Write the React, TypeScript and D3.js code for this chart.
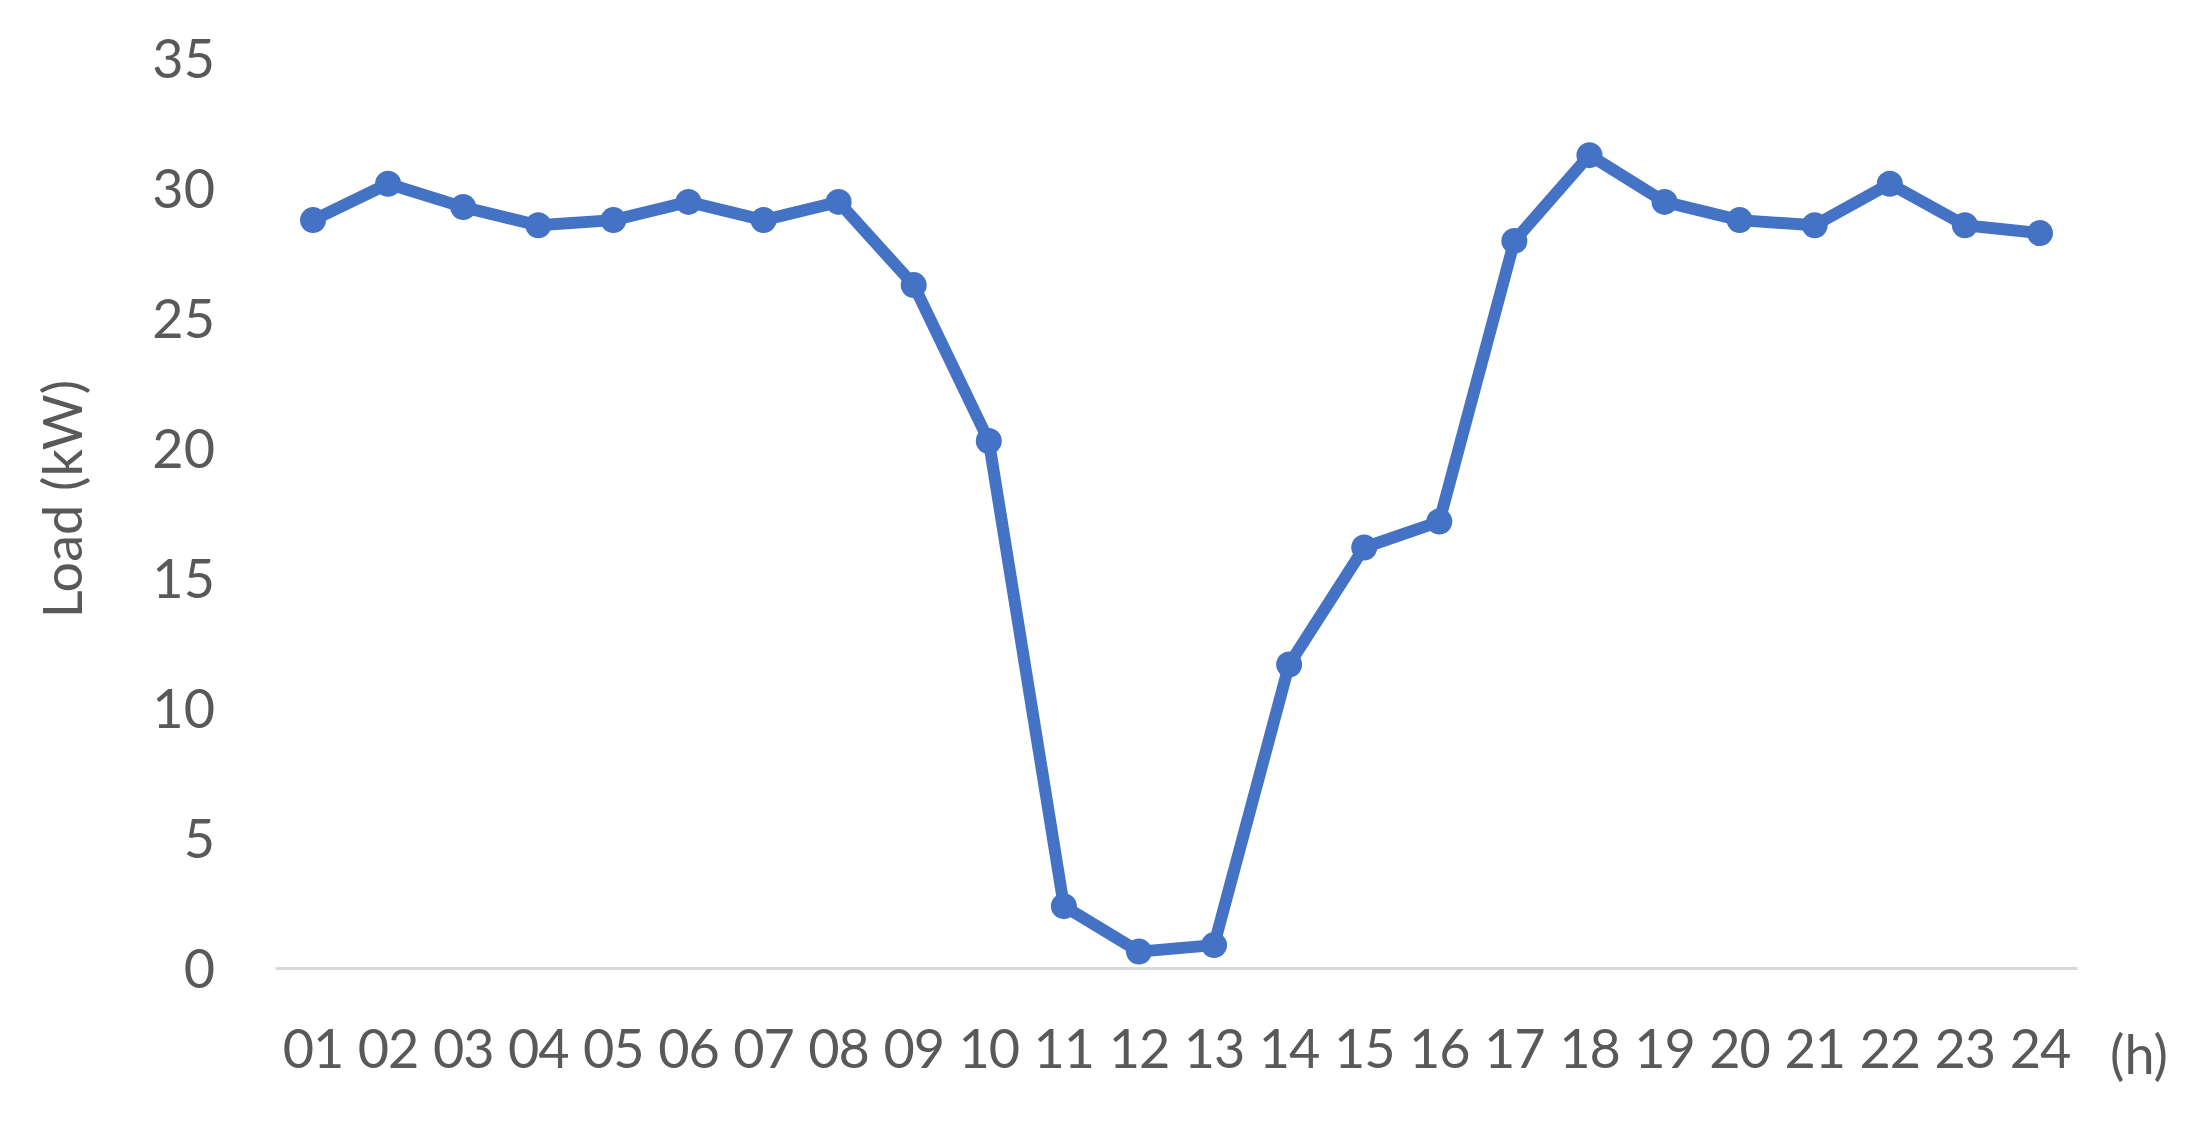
import React from "react";
import * as d3 from "d3";

const hours = ["01","02","03","04","05","06","07","08","09","10","11","12","13","14","15","16","17","18","19","20","21","22","23","24"];
const load = [28.8,30.2,29.3,28.6,28.8,29.5,28.8,29.5,26.3,20.3,2.4,0.65,0.9,11.7,16.2,17.2,28.0,31.3,29.5,28.8,28.6,30.2,28.6,28.3];
const yTicks = [0,5,10,15,20,25,30,35];

const W = 2204, H = 1135;
const FONT = "Lato, 'Open Sans', sans-serif";
const TEXT = "#595959";
const LINE = "#4472C4";

export default function App() {
  const x = d3.scaleBand<string>().domain(hours).range([275.5, 2077.5]);
  const y = d3.scaleLinear().domain([0, 35]).range([968.5, 59]);
  const line = d3.line<number>()
    .x((_, i) => (x(hours[i]) as number) + x.bandwidth() / 2)
    .y((d) => y(d));
  return (
    <svg width={W} height={H} style={{ position: "absolute", left: 0, top: 0, background: "#fff" }}>
      <rect width={W} height={H} fill="#fff" />
      <line x1={275.5} x2={2077.5} y1={y(0)} y2={y(0)} stroke="#D9D9D9" strokeWidth={3} />
      {yTicks.map((t) => (
        <text key={t} x={215} y={y(t)} dy="0.36em" textAnchor="end" fontFamily={FONT} fontSize={54} fill={TEXT}>{t}</text>
      ))}
      {hours.map((h) => (
        <text key={h} x={(x(h) as number) + x.bandwidth() / 2} y={1049} dy="0.36em" textAnchor="middle" fontFamily={FONT} fontSize={54} fill={TEXT} letterSpacing={-1}>{h}</text>
      ))}
      <text x={2139} y={1055} dy="0.36em" textAnchor="middle" fontFamily={FONT} fontSize={54} fill={TEXT}>(h)</text>
      <text transform={`translate(63,499) rotate(-90)`} dy="0.36em" textAnchor="middle" fontFamily={FONT} fontSize={54} fill={TEXT}>Load (kW)</text>
      <path d={line(load) || ""} fill="none" stroke={LINE} strokeWidth={12} strokeLinejoin="round" />
      {load.map((v, i) => (
        <circle key={i} cx={(x(hours[i]) as number) + x.bandwidth() / 2} cy={y(v)} r={13} fill={LINE} />
      ))}
    </svg>
  );
}
